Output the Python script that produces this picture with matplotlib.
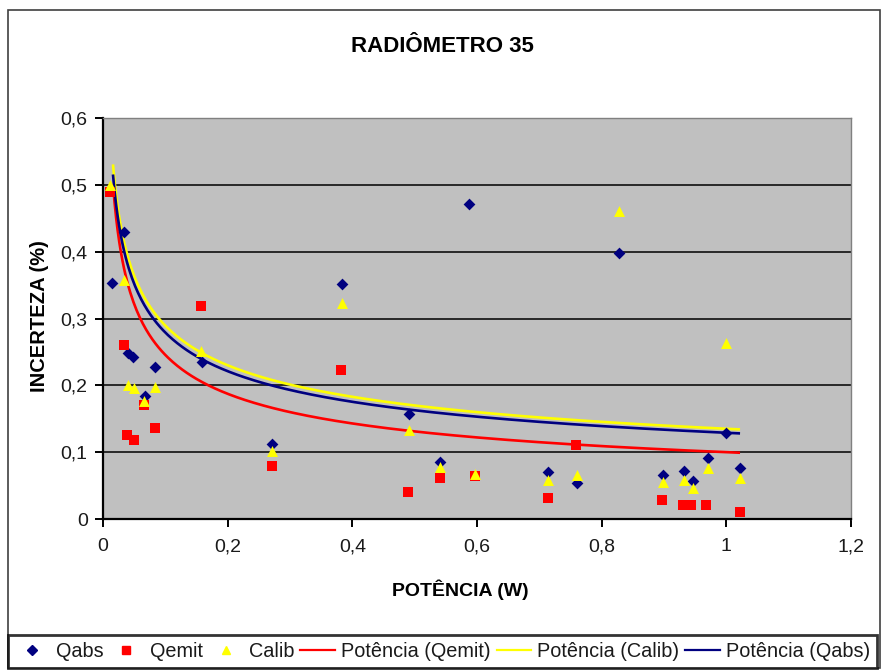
import numpy as np
import matplotlib
matplotlib.use("Agg")
import matplotlib.pyplot as plt
from matplotlib.patches import Rectangle
from matplotlib.lines import Line2D
from matplotlib.ticker import FuncFormatter

plt.rcParams["font.family"] = ["Liberation Sans", "DejaVu Sans"]

# --- measurements -----------------------------------------------------------
qabs_x = [0.014, 0.034, 0.040, 0.048, 0.067, 0.083, 0.159, 0.271, 0.383, 0.491,
          0.541, 0.587, 0.714, 0.760, 0.828, 0.898, 0.932, 0.946, 0.970, 0.9995, 1.022]
qabs_y = [0.353, 0.429, 0.248, 0.242, 0.184, 0.227, 0.235, 0.112, 0.352, 0.157,
          0.086, 0.471, 0.070, 0.054, 0.398, 0.066, 0.072, 0.057, 0.092, 0.128, 0.077]

qemit_x = [0.012, 0.034, 0.039, 0.049, 0.066, 0.083, 0.158, 0.271, 0.382, 0.490,
           0.540, 0.597, 0.714, 0.759, 0.897, 0.931, 0.943, 0.968, 1.022]
qemit_y = [0.490, 0.260, 0.126, 0.118, 0.171, 0.136, 0.319, 0.079, 0.223, 0.040,
           0.062, 0.064, 0.031, 0.111, 0.028, 0.021, 0.021, 0.021, 0.011]

calib_x = [0.012, 0.033, 0.040, 0.049, 0.066, 0.083, 0.158, 0.271, 0.383, 0.491,
           0.541, 0.597, 0.714, 0.760, 0.828, 0.898, 0.932, 0.946, 0.970, 0.9995, 1.022]
calib_y = [0.500, 0.358, 0.201, 0.196, 0.176, 0.198, 0.252, 0.101, 0.323, 0.133,
           0.078, 0.068, 0.058, 0.066, 0.461, 0.056, 0.059, 0.047, 0.076, 0.264, 0.062]

# power trendlines y = a * x**b, drawn over trend_range
trend_qemit = (0.100, -0.390)
trend_calib = (0.135, -0.331)
trend_qabs = (0.129, -0.335)
trend_range = (0.016, 1.022)

x_ticks = [0, 0.2, 0.4, 0.6, 0.8, 1.0, 1.2]
y_ticks = [0, 0.1, 0.2, 0.3, 0.4, 0.5, 0.6]

title = "RADIÔMETRO 35"
x_label = "POTÊNCIA (W)"
y_label = "INCERTEZA (%)"
legend_labels = ["Qabs", "Qemit", "Calib",
                 "Potência (Qemit)", "Potência (Calib)", "Potência (Qabs)"]

NAVY, RED, YELLOW = "#000080", "#FF0000", "#FFFF00"

# --- figure -----------------------------------------------------------------
W, H = 883, 670
fig = plt.figure(figsize=(W / 100, H / 100), dpi=100)
fig.patch.set_facecolor("white")

def fx(px):
    return px / W

def fy(py):
    return 1 - py / H

# chart-area frame
fig.add_artist(Rectangle((fx(8), fy(668)), fx(880) - fx(8), fy(10) - fy(668),
                         transform=fig.transFigure, fill=False,
                         edgecolor="#404040", linewidth=1.2, zorder=0))

ax = fig.add_axes([fx(103), fy(519), fx(851) - fx(103), fy(118) - fy(519)])
ax.set_facecolor("#C0C0C0")
ax.set_xlim(0, 1.2)
ax.set_ylim(0, 0.6)

for yv in y_ticks[1:-1]:
    ax.axhline(yv, color="black", linewidth=1.1, zorder=1)

def trend(coef):
    a, b = coef
    xx = np.linspace(trend_range[0], trend_range[1], 400)
    return xx, a * xx ** b

for coef, col in [(trend_qemit, RED), (trend_calib, YELLOW), (trend_qabs, NAVY)]:
    tx, ty = trend(coef)
    ax.plot(tx, ty, color=col, linewidth=1.9, zorder=2, solid_capstyle="butt")

ax.scatter(qabs_x, qabs_y, marker="D", s=36, color=NAVY, zorder=3, linewidths=0)
ax.scatter(qemit_x, qemit_y, marker="s", s=52, color=RED, zorder=4, linewidths=0)
ax.scatter(calib_x, calib_y, marker="^", s=62, color=YELLOW, zorder=5, linewidths=0)

for side in ("top", "right"):
    ax.spines[side].set_color("#808080")
    ax.spines[side].set_linewidth(1.0)
for side in ("left", "bottom"):
    ax.spines[side].set_color("black")
    ax.spines[side].set_linewidth(1.6)

comma = FuncFormatter(lambda v, p: ("%g" % round(v, 2)).replace(".", ","))
ax.set_xticks(x_ticks)
ax.set_yticks(y_ticks)
ax.xaxis.set_major_formatter(comma)
ax.yaxis.set_major_formatter(comma)
ax.tick_params(axis="both", direction="out", length=6, width=1.4,
               labelsize=14, labelcolor="#1a1a1a", color="black")
ax.tick_params(axis="x", pad=8)
ax.tick_params(axis="y", pad=5)

fig.text(fx(442), fy(47), title, ha="center", va="center",
         fontsize=16, fontweight="bold")
fig.text(fx(460), fy(590), x_label, ha="center", va="center",
         fontsize=14, fontweight="bold")
fig.text(fx(40), fy(316), y_label, ha="center", va="center", rotation=90,
         fontsize=14.5, fontweight="bold")

handles = [
    Line2D([], [], linestyle="none", marker="D", markersize=5, color=NAVY),
    Line2D([], [], linestyle="none", marker="s", markersize=6, color=RED),
    Line2D([], [], linestyle="none", marker="^", markersize=6, color=YELLOW),
    Line2D([], [], color=RED, linewidth=1.6),
    Line2D([], [], color=YELLOW, linewidth=1.6),
    Line2D([], [], color=NAVY, linewidth=1.6),
]
leg = fig.legend(handles, legend_labels, loc="lower left", ncol=6,
                 mode="expand", bbox_to_anchor=(fx(8), fy(668), fx(877) - fx(8), fy(629) - fy(668)),
                 bbox_transform=fig.transFigure, borderaxespad=0,
                 fontsize=14.3, handlelength=1.75, handletextpad=0.3,
                 columnspacing=0.4, fancybox=False, frameon=True,
                 borderpad=0.35)
leg.get_frame().set_edgecolor("black")
leg.get_frame().set_linewidth(2.0)
leg.get_frame().set_facecolor("white")
for t in leg.get_texts():
    t.set_color("#1a1a1a")

fig.savefig("out.png", dpi=100)
